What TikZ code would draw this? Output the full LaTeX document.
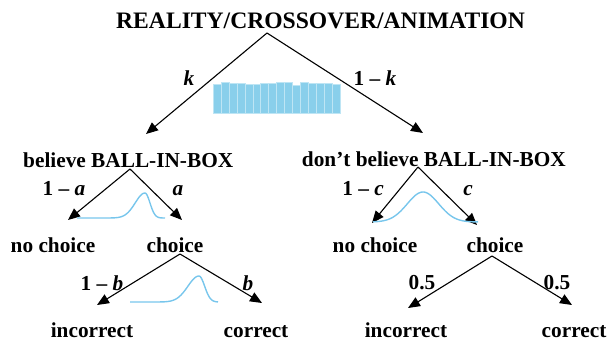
\documentclass[tikz,border=0pt]{standalone}
\usepackage{fontspec}
\setmainfont{Liberation Serif}
\usetikzlibrary{arrows.meta}
\definecolor{barblue}{RGB}{137,207,235}
\definecolor{curveblue}{RGB}{120,198,236}

\begin{document}
\begin{tikzpicture}[
      x=1pt, y=-1pt,
      head/.style={inner sep=1pt, anchor=base, font=\fontsize{23.6}{28}\selectfont\bfseries},
      lbl/.style={inner sep=1pt, anchor=base, font=\fontsize{21.3}{24}\selectfont\bfseries},
      branch/.style={draw, line width=1.1pt, -{Triangle[length=12pt,width=10pt]}},
      density/.style={draw=curveblue, line width=1.4pt}, % skewed bumps under the forks
      bar/.style={fill=barblue, draw=white!45!barblue, line width=0.4pt},
    ]
    \useasboundingbox (0,0) rectangle (609,343);

    % texts
    \node[head, anchor=base west] (title) at (115,28) {REALITY/CROSSOVER/ANIMATION};
    \node[lbl, anchor=base west] (believe) at (22,167) {believe BALL-IN-BOX};
    \node[lbl, anchor=base east] (dontbelieve) at (567,166) {don’t believe BALL-IN-BOX};
    \node[lbl] (nochoiceL) at (53,252) {no choice};
    \node[lbl] (choiceL) at (175,252) {choice};
    \node[lbl] (nochoiceR) at (375,252) {no choice};
    \node[lbl] (choiceR) at (495,252) {choice};
    \node[lbl] (incorrectL) at (92,337) {incorrect};
    \node[lbl] (correctL) at (256,337) {correct};
    \node[lbl] (incorrectR) at (406,337) {incorrect};
    \node[lbl] (correctR) at (574,337) {correct};

    % probabilities
    \node[lbl] (pk) at (189,85) {\textit{k}};
    \node[lbl] (pnk) at (375,85) {1 -- \textit{k}};
    \node[lbl] (pna) at (64,195) {1 -- \textit{a}};
    \node[lbl] (pa) at (178,195) {\textit{a}};
    \node[lbl] (pnc) at (363,195) {1 -- \textit{c}};
    \node[lbl] (pc) at (468,195) {\textit{c}};
    \node[lbl] (pnb) at (102,290) {1 -- \textit{b}};
    \node[lbl] (pb) at (248,290) {\textit{b}};
    \node[lbl] (phalfL) at (422,289) {0.5};
    \node[lbl] (phalfR) at (557,289) {0.5};

    % forks and arrow ends
    \coordinate (titlefork) at (267,33);
    \coordinate (believefork) at (130,169);
    \coordinate (dontfork) at (418,167);
    \coordinate (choiceLfork) at (180,254);
    \coordinate (choiceRfork) at (492,256);
    \coordinate (believetip) at (146,134);
    \coordinate (donttip) at (423,133);
    \coordinate (nochoiceLtip) at (68,220);
    \coordinate (choiceLtip) at (182,220);
    \coordinate (nochoiceRtip) at (372,223);
    \coordinate (choiceRtip) at (477,225);
    \coordinate (incorrectLtip) at (97,305);
    \coordinate (correctLtip) at (262,303);
    \coordinate (incorrectRtip) at (408,308);
    \coordinate (correctRtip) at (572,305);

    \draw[branch] (titlefork) -- (believetip);
    \draw[branch] (titlefork) -- (donttip);
    \draw[branch] (believefork) -- (nochoiceLtip);
    \draw[branch] (believefork) -- (choiceLtip);
    \draw[branch] (dontfork) -- (nochoiceRtip);
    \draw[branch] (dontfork) -- (choiceRtip);
    \draw[branch] (choiceLfork) -- (incorrectLtip);
    \draw[branch] (choiceLfork) -- (correctLtip);
    \draw[branch] (choiceRfork) -- (incorrectRtip);
    \draw[branch] (choiceRfork) -- (correctRtip);

    % histogram for k
    \foreach \h [count=\i from 0] in {84,81.7,82.7,83,84,83.7,83.3,83,82.3,82,84.7,81.7,82.7,83,83.3,83.7}
      \path[bar] ({213+\i*7.94},113) rectangle ({213+(\i+1)*7.94},\h);

    % densities for a, c, b
    \draw[density] plot[domain=77:165, samples=90, smooth]
      (\x, {218-25*exp(-((\x-145)/((\x<145) ? 13.8 : 7))^2)});
    \draw[density] plot[domain=373:478, samples=90, smooth]
      (\x, {222-30*exp(-((\x-423)/22.2)^2)});
    \draw[density] plot[domain=130:218, samples=90, smooth]
      (\x, {302-26*exp(-((\x-199)/((\x<199) ? 15.7 : 8))^2)});
  \end{tikzpicture}
\end{document}
